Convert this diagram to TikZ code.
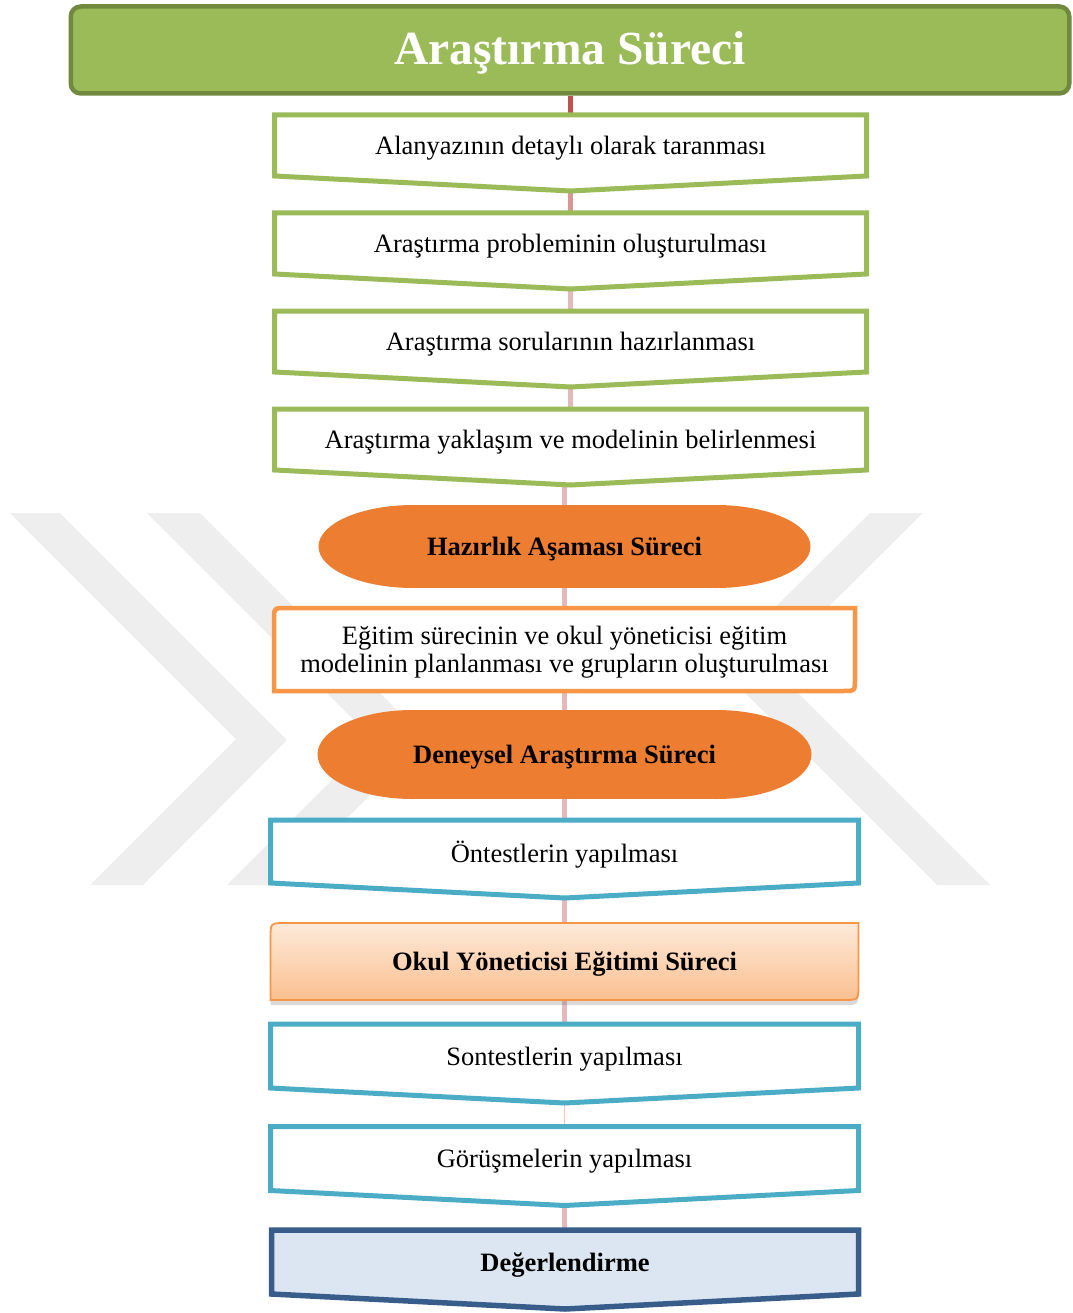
\documentclass[tikz,border=0pt]{standalone}
\usepackage{fontspec}
\setmainfont{Liberation Serif}
\usetikzlibrary{calc,shadows}
\pgfdeclarelayer{wm}\pgfdeclarelayer{connl}\pgfdeclarelayer{shapes}
\pgfsetlayers{wm,connl,shapes,main}
\definecolor{hdrfill}{RGB}{155,187,89}
\definecolor{hdrdraw}{RGB}{113,137,63}
\definecolor{grn}{RGB}{155,187,89}
\definecolor{orgE}{RGB}{237,125,49}
\definecolor{orgB}{RGB}{247,150,70}
\definecolor{blu}{RGB}{75,172,198}
\definecolor{dblu}{RGB}{56,93,138}
\definecolor{lblu}{RGB}{220,230,242}
\definecolor{peachT}{RGB}{253,234,218}
\definecolor{peachB}{RGB}{250,191,143}
\definecolor{conRed}{RGB}{192,80,77}
\definecolor{conPink}{RGB}{217,150,148}
\definecolor{conLight}{RGB}{226,186,188}
\definecolor{conSalmon}{RGB}{246,196,176}
\definecolor{wmgray}{RGB}{238,238,238}
\tikzset{
  shp/.style={inner sep=0pt, outer sep=0pt},
  txt/.style={font=\fontsize{26.5}{28}\selectfont, inner sep=0pt, outer sep=0pt, align=center, yshift=-3pt},
  btxt/.style={txt, font=\fontsize{26.5}{28}\selectfont\bfseries},
  greenbox/.style={draw=grn, line width=5pt, fill=white},
  bluebox/.style={draw=blu, line width=5pt, fill=white},
  evalbox/.style={draw=dblu, line width=5.5pt, fill=lblu},
  connector/.style={line width=4.5pt},
  hdrbox/.style={draw=hdrdraw, fill=hdrfill, line width=4.5pt, rounded corners=10pt, inner sep=0pt},
  hdrtxt/.style={text=white, font=\fontsize{47.5}{50}\selectfont\bfseries, inner sep=0pt, yshift=-3pt},
}
\newcommand{\chevbox}[7]{%
  \node[shp, minimum width=#4pt, minimum height=#5pt] (#1) at (#2,#3) {};
  \node[txt] (#1t) at (#1) {#7};
  \coordinate (#1tip) at ($(#1.south)+(0,15)$);
  \begin{pgfonlayer}{shapes}
  \path[#6] (#1.north west) -- (#1.north east) -- (#1.south east) -- (#1tip) -- (#1.south west) -- cycle;
  \end{pgfonlayer}
}
\begin{document}
\begin{tikzpicture}[x=1pt,y=-1pt]
\useasboundingbox (0,0) rectangle (1072,1313);

% watermark
\begin{pgfonlayer}{wm}
\fill[wmgray] (10,513) -- (60,513) -- (287,740) -- (143,885) -- (90,885) -- (236,739) -- cycle;
\fill[wmgray] (147,513) -- (200,513) -- (426,739) -- (280,885) -- (227,885) -- (373,739) -- cycle;
\fill[wmgray] (870,513) -- (923,513) -- (770,665) -- (990,885) -- (937,885) -- (717,665) -- cycle;
\end{pgfonlayer}

% header
\node[hdrbox, minimum width=998.5pt, minimum height=87pt] (hdr) at (570,50) {};
\node[hdrtxt] (hdrt) at (hdr) {Araştırma Süreci};

% green boxes
\chevbox{b1}{570.5}{145.5}{592}{61}{greenbox}{Alanyazının detaylı olarak taranması}
\chevbox{b2}{570.5}{243.5}{592}{61}{greenbox}{Araştırma probleminin oluşturulması}
\chevbox{b3}{570.5}{341.5}{592}{61}{greenbox}{Araştırma sorularının hazırlanması}
\chevbox{b4}{570.5}{439.5}{592}{61}{greenbox}{Araştırma yaklaşım ve modelinin belirlenmesi}

% pill 1
\node[shp, minimum width=492pt, minimum height=83pt] (h1) at (564.5,546.5) {};
\node[btxt] (h1t) at (h1) {Hazırlık Aşaması Süreci};
\begin{pgfonlayer}{shapes}
\fill[orgE] ([xshift=95pt]h1.north west) rectangle ([xshift=-95pt]h1.south east);
\fill[orgE] ([xshift=95pt]h1.west) ellipse [x radius=95pt, y radius=41.5pt];
\fill[orgE] ([xshift=-95pt]h1.east) ellipse [x radius=95pt, y radius=41.5pt];
\end{pgfonlayer}

% planning box
\node[shp, minimum width=581pt, minimum height=83pt] (eg) at (564.5,649.5) {};
\node[txt] (egt) at (eg) {Eğitim sürecinin ve okul yöneticisi eğitim\\modelinin planlanması ve grupların oluşturulması};
\begin{pgfonlayer}{shapes}
\path[draw=orgB, line width=4.5pt, fill=white]
  ([yshift=-12pt]eg.north west) .. controls (eg.north west) .. ([xshift=12pt]eg.north west)
  -- (eg.north east) -- ([yshift=12pt]eg.south east)
  .. controls (eg.south east) .. ([xshift=-12pt]eg.south east)
  -- (eg.south west) -- cycle;
\end{pgfonlayer}

% pill 2
\node[shp, minimum width=494pt, minimum height=89pt] (d1) at (564.5,754.5) {};
\node[btxt] (d1t) at (d1) {Deneysel Araştırma Süreci};
\begin{pgfonlayer}{shapes}
\fill[orgE] ([xshift=95pt]d1.north west) rectangle ([xshift=-95pt]d1.south east);
\fill[orgE] ([xshift=95pt]d1.west) ellipse [x radius=95pt, y radius=44.5pt];
\fill[orgE] ([xshift=-95pt]d1.east) ellipse [x radius=95pt, y radius=44.5pt];
\end{pgfonlayer}

% pre-tests
\chevbox{b5}{564.5}{851.5}{588}{63}{bluebox}{Öntestlerin yapılması}

% training box
\node[shp, minimum width=588pt, minimum height=77pt] (okul) at (564.5,961.5) {};
\node[btxt] (okult) at (okul) {Okul Yöneticisi Eğitimi Süreci};
\begin{pgfonlayer}{shapes}
\path[draw=orgB, line width=1.8pt, top color=peachT, bottom color=peachB,
      drop shadow={opacity=0.3, shadow xshift=0pt, shadow yshift=-5pt}]
  ([yshift=-15pt]okul.north west) .. controls (okul.north west) .. ([xshift=15pt]okul.north west)
  -- (okul.north east) -- ([yshift=15pt]okul.south east)
  .. controls (okul.south east) .. ([xshift=-15pt]okul.south east)
  -- (okul.south west) -- cycle;
\end{pgfonlayer}

% post-tests, interviews, evaluation
\chevbox{b6}{564.5}{1056}{588}{64}{bluebox}{Sontestlerin yapılması}
\chevbox{b7}{564.5}{1158.5}{588}{64}{bluebox}{Görüşmelerin yapılması}
\chevbox{b8}{565}{1262}{587}{64}{evalbox}{\bfseries Değerlendirme}

% connectors
\begin{pgfonlayer}{connl}
\draw[connector, conRed] (b1.north |- hdr.south) -- (b1.north);
\draw[connector, conPink] (b1tip) -- (b2.north);
\draw[connector, conLight] (b2tip) -- (b3.north);
\draw[connector, conLight] (b3tip) -- (b4.north);
\draw[connector, conLight] (h1.north |- b4tip) -- (h1.north);
\draw[connector, conLight] (h1.south) -- (eg.north);
\draw[connector, conLight] (eg.south) -- (d1.north);
\draw[connector, conLight] (d1.south) -- (b5.north);
\draw[connector, conLight] (b5tip) -- (okul.north);
\draw[connector, conLight] (okul.south) -- (b6.north);
\draw[line width=1.5pt, conSalmon] (b6tip) -- (b7.north);
\draw[connector, conLight] (b7tip) -- (b8.north -| b7tip);
\end{pgfonlayer}
\end{tikzpicture}
\end{document}
